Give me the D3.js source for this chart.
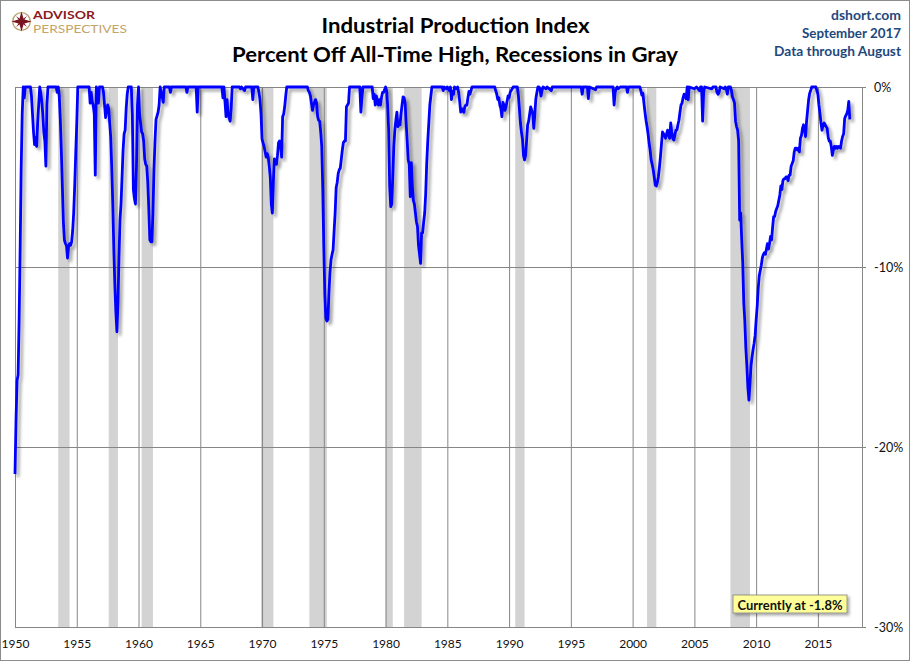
<!DOCTYPE html>
<html>
<head>
<meta charset="utf-8">
<script src="https://cdn.jsdelivr.net/npm/d3@7"></script>
<style>
  html, body { margin: 0; padding: 0; background: #fff; }
  svg { display: block; }
  text { font-family: Lato, "Open Sans", "DejaVu Sans", sans-serif; }
</style>
</head>
<body>
<svg id="chart" width="910" height="661"></svg>
<script>
// ---------- DATA ----------
const chartTitle = "Industrial Production Index";
const chartSubtitle = "Percent Off All-Time High, Recessions in Gray";
const sourceLines = ["dshort.com", "September 2017", "Data through August"];
const currentLabel = "Currently at -1.8%";

const xTickYears = [1950, 1955, 1960, 1965, 1970, 1975, 1980, 1985, 1990, 1995, 2000, 2005, 2010, 2015];
const yTickValues = [0, -10, -20, -30];

const recessionStarts = ["1953-07", "1957-08", "1960-04", "1969-12", "1973-11", "1980-01", "1981-07", "1990-07", "2001-03", "2007-12"];
const recessionEnds   = ["1954-05", "1958-04", "1961-02", "1970-11", "1975-03", "1980-07", "1982-11", "1991-03", "2001-11", "2009-06"];

// Percent off all-time high, [month, value]
const ipSeries = [
  ["1950-01",-21.5],["1950-02",-18.5],["1950-03",-16.3],["1950-04",-16.0],["1950-05",-13.0],["1950-06",-9.0],
  ["1950-07",-4.5],["1950-08",-1.5],["1950-09",0],["1950-10",-0.6],["1950-11",0],["1951-04",0],
  ["1951-05",-0.5],["1951-06",-1.5],["1951-07",-2.5],["1951-08",-3.2],["1951-09",-2.8],["1951-10",-3.3],
  ["1951-11",-2.0],["1951-12",-1.0],["1952-01",0],["1952-02",-0.3],["1952-03",-0.8],["1952-04",-1.5],
  ["1952-05",-2.5],["1952-06",-3.0],["1952-07",-4.4],["1952-08",-1.0],["1952-09",0],["1953-05",0],
  ["1953-06",-0.3],["1953-07",0],["1953-08",-0.5],["1953-09",-1.8],["1953-10",-3.5],["1953-11",-5.5],
  ["1953-12",-7.5],["1954-01",-8.5],["1954-02",-8.7],["1954-03",-8.8],["1954-04",-9.5],["1954-05",-8.9],
  ["1954-06",-8.7],["1954-07",-8.8],["1954-08",-8.6],["1954-09",-8.0],["1954-10",-7.0],["1954-11",-5.5],
  ["1954-12",-3.7],["1955-01",-2.0],["1955-02",0],["1956-01",0],["1956-02",-0.9],["1956-03",-0.3],
  ["1956-04",-0.8],["1956-05",-1.0],["1956-06",-1.5],["1956-07",-4.9],["1956-08",0],["1956-09",-0.3],
  ["1956-10",-0.9],["1956-11",0],["1957-02",0],["1957-03",-0.3],["1957-04",-1.0],["1957-05",-1.7],
  ["1957-06",-1.3],["1957-07",-1.0],["1957-08",-1.2],["1957-09",-2.0],["1957-10",-2.8],["1957-11",-4.5],
  ["1957-12",-6.5],["1958-01",-9.0],["1958-02",-11.0],["1958-03",-12.5],["1958-04",-13.6],["1958-05",-12.0],
  ["1958-06",-9.5],["1958-07",-7.4],["1958-08",-6.5],["1958-09",-5.0],["1958-10",-3.5],["1958-11",-2.6],
  ["1958-12",-2.4],["1959-01",-1.2],["1959-02",-0.4],["1959-03",0],["1959-06",0],["1959-07",-1.5],
  ["1959-08",-5.7],["1959-09",-6.2],["1959-10",-6.5],["1959-11",-4.4],["1959-12",-1.0],["1960-01",0],
  ["1960-02",-1.5],["1960-03",-2.0],["1960-04",-2.5],["1960-05",-2.6],["1960-06",-3.0],["1960-07",-4.0],
  ["1960-08",-4.3],["1960-09",-4.4],["1960-10",-5.3],["1960-11",-6.8],["1960-12",-8.5],["1961-01",-8.6],
  ["1961-02",-8.6],["1961-03",-7.0],["1961-04",-4.6],["1961-05",-3.0],["1961-06",-1.8],["1961-07",-1.6],
  ["1961-08",-1.4],["1961-09",-1.0],["1961-10",0],["1962-01",-0.85],["1962-02",0],["1962-07",0],
  ["1962-08",-0.3],["1962-09",0],["1963-11",0],["1963-12",-0.3],["1964-01",0],["1964-09",0],
  ["1964-10",-1.4],["1964-11",0],["1966-10",0],["1966-11",-0.6],["1966-12",0],["1967-01",-0.8],
  ["1967-02",-1.65],["1967-03",-0.7],["1967-04",-1.5],["1967-05",-1.7],["1967-06",-1.9],["1967-07",-1.2],
  ["1967-08",0],["1968-03",0],["1968-04",-0.1],["1968-05",0],["1968-08",-0.2],["1968-09",0],
  ["1969-03",0],["1969-04",-0.7],["1969-05",0],["1969-09",0],["1969-10",-0.3],["1969-11",-0.7],
  ["1969-12",-1.5],["1970-01",-2.9],["1970-02",-3.1],["1970-03",-3.3],["1970-04",-3.6],["1970-05",-3.9],
  ["1970-06",-3.7],["1970-07",-3.9],["1970-08",-4.4],["1970-09",-5.0],["1970-10",-6.5],["1970-11",-7.0],
  ["1970-12",-5.2],["1971-01",-4.0],["1971-02",-4.1],["1971-03",-4.3],["1971-04",-3.8],["1971-05",-3.1],
  ["1971-06",-3.0],["1971-07",-3.2],["1971-08",-3.9],["1971-09",-1.65],["1971-10",-1.5],["1971-11",-1.1],
  ["1971-12",-0.5],["1972-01",0],["1973-09",0],["1973-10",-0.2],["1973-11",-0.3],["1973-12",-0.5],
  ["1974-01",-0.9],["1974-02",-1.3],["1974-03",-1.0],["1974-04",-0.85],["1974-05",-0.7],["1974-06",-0.9],
  ["1974-07",-1.65],["1974-08",-1.85],["1974-09",-1.9],["1974-10",-2.5],["1974-11",-3.3],["1974-12",-5.7],
  ["1975-01",-8.9],["1975-02",-11.5],["1975-03",-12.85],["1975-04",-13.0],["1975-05",-12.9],["1975-06",-11.4],
  ["1975-07",-10.3],["1975-08",-9.6],["1975-09",-9.3],["1975-10",-9.05],["1975-11",-8.0],["1975-12",-7.0],
  ["1976-01",-5.6],["1976-02",-5.3],["1976-03",-4.8],["1976-04",-4.6],["1976-05",-4.5],["1976-06",-4.0],
  ["1976-07",-3.5],["1976-08",-3.1],["1976-09",-3.0],["1976-10",-3.0],["1976-11",-1.1],["1976-12",-1.0],
  ["1977-01",-0.9],["1977-02",0],["1977-12",0],["1978-01",-1.4],["1978-02",-0.6],["1978-03",0],
  ["1978-12",0],["1979-01",-0.65],["1979-02",-0.4],["1979-03",-1.0],["1979-04",-0.5],["1979-05",-0.8],
  ["1979-06",-1.0],["1979-07",-0.7],["1979-08",-1.0],["1979-09",-0.6],["1979-10",-0.3],["1979-11",-0.3],
  ["1980-01",0],["1980-02",-0.2],["1980-03",-1.0],["1980-04",-2.4],["1980-05",-5.5],["1980-06",-6.65],
  ["1980-07",-6.5],["1980-08",-5.0],["1980-09",-3.3],["1980-10",-2.4],["1980-11",-1.85],["1980-12",-1.4],
  ["1981-01",-2.2],["1981-02",-2.0],["1981-03",-2.1],["1981-04",-1.5],["1981-05",-1.0],["1981-06",-0.55],
  ["1981-07",-0.6],["1981-08",-0.9],["1981-09",-2.0],["1981-10",-3.0],["1981-11",-4.05],["1981-12",-4.3],
  ["1982-01",-6.1],["1982-02",-4.2],["1982-03",-5.5],["1982-04",-6.3],["1982-05",-6.5],["1982-06",-7.0],
  ["1982-07",-7.5],["1982-08",-7.75],["1982-09",-8.8],["1982-10",-9.3],["1982-11",-9.8],["1982-12",-8.1],
  ["1983-01",-8.1],["1983-02",-7.5],["1983-03",-7.0],["1983-04",-5.9],["1983-05",-4.2],["1983-06",-3.0],
  ["1983-07",-2.0],["1983-08",-1.0],["1983-09",-0.5],["1983-10",0],["1984-08",0],["1984-09",-0.2],
  ["1984-10",0],["1984-12",-0.1],["1985-01",0],["1985-03",-0.2],["1985-04",0],["1985-05",-0.7],
  ["1985-06",-0.25],["1985-07",-0.4],["1985-08",0],["1985-10",-0.1],["1985-11",0],["1985-12",-0.3],
  ["1986-01",-0.8],["1986-02",-1.4],["1986-03",-1.2],["1986-04",-1.3],["1986-05",-1.4],["1986-06",-1.1],
  ["1986-07",-1.0],["1986-08",-1.0],["1986-09",-0.6],["1986-10",-0.25],["1986-11",-0.4],["1986-12",-0.2],
  ["1987-01",0],["1988-11",0],["1988-12",-0.2],["1989-01",-0.4],["1989-02",-0.7],["1989-03",-0.6],
  ["1989-04",-1.0],["1989-05",-1.2],["1989-06",-1.65],["1989-07",-0.85],["1989-08",-1.0],["1989-09",-1.3],
  ["1989-10",-1.1],["1989-11",-0.8],["1989-12",-0.5],["1990-01",-0.6],["1990-02",-0.3],["1990-03",-0.2],
  ["1990-04",-0.1],["1990-05",0],["1990-09",0],["1990-10",-0.45],["1990-11",-1.2],["1990-12",-2.0],
  ["1991-01",-2.5],["1991-02",-2.9],["1991-03",-3.8],["1991-04",-4.05],["1991-05",-3.8],["1991-06",-3.0],
  ["1991-07",-2.1],["1991-08",-1.9],["1991-09",-1.5],["1991-10",-1.1],["1991-11",-1.3],["1991-12",-1.5],
  ["1992-01",-2.3],["1992-02",-1.5],["1992-03",-0.65],["1992-04",-0.3],["1992-05",0],["1992-06",0],
  ["1992-07",-0.1],["1992-08",-0.5],["1992-09",-0.2],["1992-10",0],["1993-01",-0.1],["1993-02",0],
  ["1993-06",-0.2],["1993-07",0],["1995-11",0],["1995-12",-0.4],["1996-01",0],["1996-05",0],
  ["1996-06",-0.65],["1996-07",0],["1997-01",-0.15],["1997-02",0],["1998-06",0],["1998-07",-1.0],
  ["1998-08",-0.3],["1998-09",-0.1],["1998-10",0],["1998-11",-0.1],["1999-01",0],["1999-07",0],
  ["1999-08",-0.3],["1999-09",0],["2000-08",0],["2000-09",-0.2],["2000-10",-0.45],["2000-11",-0.35],
  ["2000-12",-0.9],["2001-01",-1.4],["2001-02",-1.85],["2001-03",-2.2],["2001-04",-2.6],["2001-05",-3.1],
  ["2001-06",-3.5],["2001-07",-4.05],["2001-08",-4.3],["2001-09",-4.6],["2001-10",-5.0],["2001-11",-5.45],
  ["2001-12",-5.5],["2002-01",-5.3],["2002-02",-5.0],["2002-03",-4.5],["2002-04",-3.9],["2002-05",-3.2],
  ["2002-06",-2.5],["2002-07",-2.6],["2002-08",-2.7],["2002-09",-2.85],["2002-10",-2.6],["2002-11",-2.4],
  ["2002-12",-2.7],["2003-01",-2.85],["2003-02",-2.0],["2003-03",-2.5],["2003-04",-2.85],["2003-05",-2.95],
  ["2003-06",-2.7],["2003-07",-2.4],["2003-08",-2.4],["2003-09",-2.1],["2003-10",-1.85],["2003-11",-1.4],
  ["2003-12",-1.0],["2004-01",-0.9],["2004-02",-0.6],["2004-03",-0.4],["2004-04",-0.5],["2004-05",-0.65],
  ["2004-06",0],["2004-07",-0.7],["2004-08",0],["2005-01",-0.1],["2005-03",0],["2005-06",-0.2],
  ["2005-07",0],["2005-08",0],["2005-09",-1.9],["2005-10",-0.3],["2005-11",0],["2006-06",-0.1],
  ["2006-07",0],["2006-10",0],["2006-11",-0.3],["2006-12",-0.4],["2007-01",-0.3],["2007-02",0],
  ["2007-06",-0.1],["2007-07",0],["2007-08",-0.1],["2007-09",-0.4],["2007-10",0],["2007-12",0],
  ["2008-01",-0.2],["2008-02",-0.55],["2008-03",-0.7],["2008-04",-0.9],["2008-05",-1.9],["2008-06",-2.2],
  ["2008-07",-2.4],["2008-08",-3.0],["2008-09",-7.4],["2008-10",-7.0],["2008-11",-8.5],["2008-12",-9.8],
  ["2009-01",-12.0],["2009-02",-13.0],["2009-03",-14.5],["2009-04",-15.5],["2009-05",-16.7],["2009-06",-17.4],
  ["2009-07",-16.5],["2009-08",-15.5],["2009-09",-15.0],["2009-10",-14.6],["2009-11",-14.25],["2009-12",-13.8],
  ["2010-01",-12.95],["2010-02",-12.2],["2010-03",-11.2],["2010-04",-10.5],["2010-05",-10.2],["2010-06",-9.9],
  ["2010-07",-9.5],["2010-08",-9.3],["2010-09",-9.2],["2010-10",-9.3],["2010-11",-9.0],["2010-12",-8.7],
  ["2011-01",-9.0],["2011-02",-8.7],["2011-03",-8.3],["2011-04",-8.5],["2011-05",-7.8],["2011-06",-7.2],
  ["2011-07",-7.2],["2011-08",-6.9],["2011-09",-6.75],["2011-10",-6.6],["2011-11",-6.3],["2011-12",-6.0],
  ["2012-01",-5.5],["2012-02",-5.7],["2012-03",-5.2],["2012-04",-5.1],["2012-05",-5.1],["2012-06",-5.0],
  ["2012-07",-5.0],["2012-08",-5.2],["2012-09",-4.9],["2012-10",-4.9],["2012-11",-4.4],["2012-12",-4.25],
  ["2013-01",-4.1],["2013-02",-3.6],["2013-03",-3.4],["2013-04",-3.4],["2013-05",-3.5],["2013-06",-3.4],
  ["2013-07",-3.6],["2013-08",-2.85],["2013-09",-2.7],["2013-10",-2.3],["2013-11",-2.1],["2013-12",-2.4],
  ["2014-01",-2.75],["2014-02",-1.9],["2014-03",-1.3],["2014-04",-0.7],["2014-05",-0.35],["2014-06",-0.2],
  ["2014-07",0],["2014-11",0],["2014-12",-0.2],["2015-01",-0.4],["2015-02",-1.0],["2015-03",-1.45],
  ["2015-04",-2.0],["2015-05",-2.4],["2015-06",-2.1],["2015-07",-2.0],["2015-08",-2.1],["2015-09",-2.2],
  ["2015-10",-2.3],["2015-11",-2.8],["2015-12",-3.0],["2016-01",-3.0],["2016-02",-3.3],["2016-03",-3.8],
  ["2016-04",-3.5],["2016-05",-3.3],["2016-06",-3.4],["2016-07",-3.3],["2016-08",-3.4],["2016-09",-3.3],
  ["2016-10",-3.35],["2016-11",-3.4],["2016-12",-3.0],["2017-01",-2.75],["2017-02",-2.6],["2017-03",-1.75],
  ["2017-04",-1.6],["2017-05",-1.5],["2017-06",-1.3],["2017-07",-0.8],["2017-08",-1.8]
];

// ---------- LAYOUT ----------
const W = 910, H = 661;
const plot = { left: 15, right: 862, top: 87, bottom: 627 };
const toYear = s => { const [yy, mm] = s.split("-").map(Number); return yy + (mm - 1) / 12; };

const x = d3.scaleLinear().domain([1950, 2018.57]).range([plot.left, plot.right]);
const y = d3.scaleLinear().domain([0, -30]).range([plot.top, plot.bottom]);

const svg = d3.select("#chart");
const defs = svg.append("defs");
const shadow = defs.append("filter").attr("id", "lineShadow")
  .attr("x", "-5%").attr("y", "-5%").attr("width", "115%").attr("height", "115%");
shadow.append("feDropShadow").attr("dx", 3).attr("dy", 3).attr("stdDeviation", 1.8)
  .attr("flood-color", "#000").attr("flood-opacity", 0.35);
const boxShadow = defs.append("filter").attr("id", "boxShadow")
  .attr("x", "-10%").attr("y", "-20%").attr("width", "130%").attr("height", "160%");
boxShadow.append("feDropShadow").attr("dx", 2).attr("dy", 2).attr("stdDeviation", 1.5)
  .attr("flood-color", "#000").attr("flood-opacity", 0.35);

// background & frame
svg.append("rect").attr("x", 0.5).attr("y", 0.5).attr("width", W - 1).attr("height", H - 1)
  .attr("fill", "#fff").attr("stroke", "#8c8c8c");

// recession bands
const bands = recessionStarts.map((s, i) => ({ s: toYear(s), e: toYear(recessionEnds[i]) + 1 / 12 }));
svg.append("g").selectAll("rect").data(bands).join("rect")
  .attr("x", d => x(d.s)).attr("width", d => x(d.e) - x(d.s))
  .attr("y", plot.top).attr("height", plot.bottom - plot.top)
  .attr("fill", "#d3d3d3");

const gridColor = "#868686";
// vertical gridlines
svg.append("g").attr("transform", `translate(0,${plot.bottom})`)
  .call(d3.axisBottom(x).tickValues(xTickYears).tickSize(-(plot.bottom - plot.top)).tickFormat(""))
  .call(g => g.select(".domain").attr("stroke", gridColor))
  .call(g => g.selectAll(".tick line").attr("stroke", gridColor));

// horizontal gridlines + right axis
svg.append("g").attr("transform", `translate(${plot.right},0)`)
  .call(d3.axisRight(y).tickValues(yTickValues).tickSize(4).tickPadding(8).tickFormat(d => `${d}%`))
  .call(g => g.select(".domain").attr("stroke", gridColor))
  .call(g => g.selectAll(".tick line").attr("stroke", gridColor))
  .call(g => g.selectAll(".tick").append("line").attr("x1", 0).attr("x2", -(plot.right - plot.left)).attr("stroke", gridColor))
  .call(g => g.selectAll(".tick text").attr("font-size", 12.5).attr("fill", "#111")
    .attr("font-family", "Lato, 'Open Sans', sans-serif"));

// x labels
svg.append("g").attr("transform", `translate(0,${plot.bottom})`)
  .call(d3.axisBottom(x).tickValues(xTickYears).tickSize(0).tickPadding(12).tickFormat(d3.format("d")))
  .call(g => g.select(".domain").remove())
  .call(g => g.selectAll(".tick text").attr("font-size", 12).attr("fill", "#111")
    .attr("font-family", "Lato, 'Open Sans', sans-serif"));

// left axis line
svg.append("line").attr("x1", plot.left + 0.5).attr("x2", plot.left + 0.5)
  .attr("y1", plot.top).attr("y2", plot.bottom).attr("stroke", gridColor);

// series line
const pts = ipSeries.map(d => ({ t: toYear(d[0]), v: d[1] }));
const line = d3.line().x(d => x(d.t)).y(d => y(d.v));
svg.append("path").datum(pts).attr("d", line)
  .attr("fill", "none").attr("stroke", "#0000ff").attr("stroke-width", 2.8)
  .attr("stroke-linejoin", "round").attr("filter", "url(#lineShadow)");

// titles
svg.append("text").attr("x", 455.5).attr("y", 33).attr("text-anchor", "middle")
  .attr("font-size", 20).attr("font-weight", 700).attr("fill", "#000")
  .attr("textLength", 268).attr("lengthAdjust", "spacingAndGlyphs").text(chartTitle);
svg.append("text").attr("x", 455).attr("y", 62).attr("text-anchor", "middle")
  .attr("font-size", 20).attr("font-weight", 700).attr("fill", "#000")
  .attr("textLength", 446).attr("lengthAdjust", "spacingAndGlyphs").text(chartSubtitle);

// source lines (right)
const srcLens = [70, 99, 127];
svg.append("g").selectAll("text").data(sourceLines).join("text")
  .attr("x", 901).attr("y", (d, i) => 19.5 + i * 18).attr("text-anchor", "end")
  .attr("font-size", 13).attr("font-weight", 700).attr("fill", "#1f497d")
  .attr("textLength", (d, i) => srcLens[i]).attr("lengthAdjust", "spacingAndGlyphs")
  .text(d => d);

// current value box
const cb = svg.append("g");
cb.append("rect").attr("x", 733).attr("y", 595).attr("width", 114).attr("height", 18)
  .attr("fill", "#ffff99").attr("stroke", "#7f7f7f").attr("stroke-width", 0.8).attr("filter", "url(#boxShadow)");
cb.append("text").attr("x", 790).attr("y", 609.5).attr("text-anchor", "middle")
  .attr("font-size", 13).attr("font-weight", 700).attr("fill", "#111")
  .attr("textLength", 105).attr("lengthAdjust", "spacingAndGlyphs").text(currentLabel);

// logo
const logo = svg.append("g").attr("transform", "translate(21.5,21.5)");
logo.append("circle").attr("r", 8.8).attr("fill", "none").attr("stroke", "#b89b6a").attr("stroke-width", 1.3);
logo.append("path").attr("d", "M0,-10 L2.2,-2.2 L10,0 L2.2,2.2 L0,10 L-2.2,2.2 L-10,0 L-2.2,-2.2 Z").attr("fill", "#7a1420");
logo.append("path").attr("d", "M-5.5,-5.5 L0,-1.5 L5.5,-5.5 L1.5,0 L5.5,5.5 L0,1.5 L-5.5,5.5 L-1.5,0 Z").attr("fill", "#7a1420");
svg.append("text").attr("x", 33).attr("y", 19).attr("font-size", 12).attr("font-weight", 700)
  .attr("fill", "#8b1a22").attr("textLength", 62).attr("lengthAdjust", "spacingAndGlyphs").text("ADVISOR");
svg.append("text").attr("x", 33).attr("y", 33).attr("font-size", 11).attr("font-weight", 400)
  .attr("fill", "#c4a468").attr("textLength", 94).attr("lengthAdjust", "spacingAndGlyphs").text("PERSPECTIVES");
</script>
</body>
</html>
